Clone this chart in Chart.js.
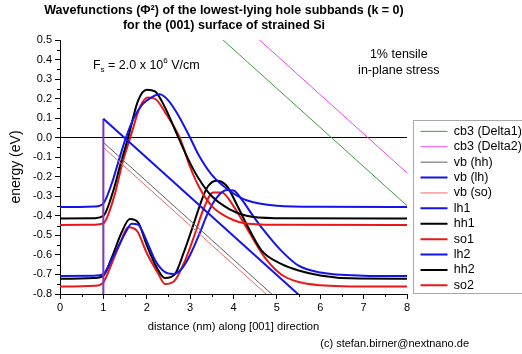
<!DOCTYPE html>
<html lang="en">
<head>
<meta charset="UTF-8">
<title>Wavefunctions of the lowest-lying hole subbands</title>
<script src="https://cdn.jsdelivr.net/npm/chart.js"></script>
<style>
  body { margin: 0; background: #fff; }
  #wrap { width: 522px; height: 354px; }
</style>
</head>
<body>
<div id="wrap"><canvas id="wfChart" width="522" height="354"></canvas></div>
<script>
// distance in nm along [001], energies in eV
const cbX = [1, 8];
const cbDelta1 = [1.052, -0.348];
const cbDelta2 = [1.22, -0.18];

// valence band edges (vertical step at the interface, then the field slope)
const vbX = [1, 1, 8];
const vbHH = [-2, -0.024, -1.424];
const vbLH = [-2, 0.097, -1.303];
const vbSO = [-2, -0.05, -1.45];

// wavefunctions, drawn at their eigenenergies
const lh1X = [0, 0.8, 1.0, 1.2, 1.35, 1.52, 1.7, 1.9, 2.1, 2.3, 2.5, 2.7, 3.0, 3.2, 3.5, 3.9, 4.3, 5.0, 6.0, 8.0];
const lh1Y = [-0.355, -0.352, -0.336, -0.23, -0.12, 0, 0.1, 0.17, 0.205, 0.222, 0.19, 0.125, 0, -0.09, -0.19, -0.27, -0.32, -0.348, -0.354, -0.355];

const hh1X = [0, 0.8, 1.0, 1.23, 1.4, 1.57, 1.8, 2.0, 2.19, 2.42, 2.73, 3.0, 3.2, 3.5, 3.9, 4.3, 5.0, 8.0];
const hh1Y = [-0.414, -0.412, -0.40, -0.27, -0.13, 0, 0.19, 0.246, 0.237, 0.155, 0, -0.13, -0.21, -0.30, -0.365, -0.40, -0.412, -0.414];

const so1X = [0, 0.8, 1.0, 1.25, 1.45, 1.62, 1.85, 2.03, 2.2, 2.45, 2.76, 3.0, 3.2, 3.5, 3.8, 4.2, 5.0, 8.0];
const so1Y = [-0.447, -0.445, -0.438, -0.30, -0.12, 0, 0.16, 0.206, 0.198, 0.12, 0, -0.15, -0.25, -0.35, -0.40, -0.435, -0.446, -0.447];

const lh2X = [0, 0.8, 1.0, 1.2, 1.5, 1.65, 1.8, 2.0, 2.2, 2.4, 2.61, 2.8, 3.0, 3.2, 3.4, 3.6, 3.85, 4.0, 4.2, 4.45, 4.65, 5.1, 5.5, 6.0, 7.0, 8.0];
const lh2Y = [-0.708, -0.706, -0.698, -0.62, -0.49, -0.44, -0.445, -0.53, -0.63, -0.685, -0.698, -0.672, -0.60, -0.50, -0.39, -0.31, -0.268, -0.27, -0.32, -0.40, -0.46, -0.578, -0.655, -0.69, -0.706, -0.708];

const hh2X = [0, 0.8, 1.0, 1.2, 1.42, 1.61, 1.8, 2.0, 2.23, 2.42, 2.65, 2.85, 3.03, 3.3, 3.42, 3.61, 3.84, 4.05, 4.26, 4.65, 5.1, 5.5, 6.0, 6.7, 8.0];
const hh2Y = [-0.722, -0.718, -0.706, -0.61, -0.485, -0.416, -0.433, -0.55, -0.664, -0.718, -0.698, -0.59, -0.476, -0.30, -0.246, -0.22, -0.246, -0.33, -0.425, -0.578, -0.646, -0.68, -0.705, -0.72, -0.722];

const so2X = [0, 0.8, 1.0, 1.2, 1.38, 1.57, 1.77, 2.0, 2.27, 2.42, 2.65, 2.9, 3.11, 3.3, 3.53, 3.73, 4.0, 4.34, 4.72, 5.1, 5.53, 6.0, 6.5, 8.0];
const so2Y = [-0.762, -0.758, -0.74, -0.64, -0.544, -0.459, -0.476, -0.59, -0.698, -0.749, -0.73, -0.62, -0.493, -0.37, -0.28, -0.28, -0.35, -0.476, -0.613, -0.70, -0.74, -0.755, -0.76, -0.762];

const xTicks = { min: 0, max: 8, step: 1 };
const yTicks = { min: -0.8, max: 0.5, step: 0.1 };

const FONT = '"Liberation Sans", Arial, sans-serif';

function pts(xs, ys) {
    return xs.map((x, i) => ({ x: x, y: ys[i] }));
}

function band(label, xs, ys, color, width) {
    return { label, data: pts(xs, ys), borderColor: color, backgroundColor: color,
             borderWidth: width, pointRadius: 0, tension: 0 };
}

function wave(label, xs, ys, color) {
    const d = band(label, xs, ys, color, 2);
    d.cubicInterpolationMode = 'monotone';
    return d;
}

const BLUE = '#1414e8', BLACK = '#000000', RED = '#e81818';

// the band edges overlap at the interface step, which shows up purple
const vbLHSet = band('vb (lh)', vbX, vbLH, BLUE, 2);
vbLHSet.segment = { borderColor: (c) => (c.p0DataIndex === 0 ? '#7a30c0' : undefined) };

// legend width fix, legend box shift and title centring
const placement = {
    id: 'placement',
    beforeLayout(chart) {
        const lg = chart.legend;
        if (lg && !lg._fixed) {
            const fit = lg.fit;
            lg.fit = function () { fit.call(this); this.width = 115; };
            lg._fixed = true;
        }
    },
    afterLayout(chart) {
        const ca = chart.chartArea;
        const lg = chart.legend;
        const w = lg.right - lg.left;
        lg.left = ca.right + 10.6;
        lg.right = lg.left + w;
        lg.bottom += 0.5;
        const t = chart.titleBlock;
        const c = (ca.left + ca.right) / 2 - 9.5;
        t.left = c - 220;
        t.right = c + 220;
    }
};

// minor ticks, legend frame and annotations
const extras = {
    id: 'extras',
    afterDraw(chart) {
        const { ctx, chartArea: ca, scales: { x, y } } = chart;
        ctx.save();
        ctx.strokeStyle = '#000';
        ctx.lineWidth = 1;
        ctx.beginPath();
        for (let v = xTicks.min + xTicks.step / 2; v < xTicks.max; v += xTicks.step) {
            const px = Math.round(x.getPixelForValue(v)) + 0.5;
            ctx.moveTo(px, ca.bottom);
            ctx.lineTo(px, ca.bottom + 3);
        }
        for (let v = yTicks.min + yTicks.step / 2; v < yTicks.max; v += yTicks.step) {
            const py = Math.round(y.getPixelForValue(v)) + 0.5;
            ctx.moveTo(ca.left - 3, py);
            ctx.lineTo(ca.left, py);
        }
        ctx.stroke();

        // legend frame
        const lg = chart.legend;
        const n = chart.data.datasets.length;
        const rowH = 15.4;
        const top = Math.round(lg.bottom - n * rowH - 5) + 0.5;
        const bot = Math.round(lg.bottom - 2) + 0.5;
        ctx.strokeStyle = '#a8a8a8';
        ctx.strokeRect(Math.round(lg.left - 4.6) + 0.5, top, 200, bot - top);

        // field annotation
        ctx.fillStyle = '#000';
        ctx.textBaseline = 'alphabetic';
        ctx.textAlign = 'left';
        let fx = x.getPixelForValue(0.76);
        const fy = y.getPixelForValue(0.353);
        ctx.font = '12.5px ' + FONT;
        ctx.fillText('F', fx, fy);
        fx += ctx.measureText('F').width;
        ctx.font = '8px ' + FONT;
        ctx.fillText('s', fx, fy + 3);
        fx += ctx.measureText('s').width;
        ctx.font = '12.5px ' + FONT;
        ctx.fillText(' = 2.0 x 10', fx, fy);
        fx += ctx.measureText(' = 2.0 x 10').width;
        ctx.font = '8px ' + FONT;
        ctx.fillText('6', fx, fy - 6);
        fx += ctx.measureText('6').width;
        ctx.font = '12.5px ' + FONT;
        ctx.fillText(' V/cm', fx, fy);

        // strain note
        ctx.textAlign = 'center';
        ctx.font = '12.5px ' + FONT;
        const sx = x.getPixelForValue(7.81);
        ctx.fillText('1% tensile', sx, y.getPixelForValue(0.409));
        ctx.fillText('in-plane stress', sx, y.getPixelForValue(0.328));

        // credit line
        ctx.textAlign = 'right';
        ctx.font = '11px ' + FONT;
        ctx.fillText('(c) stefan.birner@nextnano.de', chart.width - 53, chart.height - 7);
        ctx.restore();
    }
};

new Chart(document.getElementById('wfChart'), {
    type: 'line',
    data: {
        datasets: [
            band('cb3 (Delta1)', cbX, cbDelta1, '#3c9e3c', 1),
            band('cb3 (Delta2)', cbX, cbDelta2, '#ee44ee', 1),
            band('vb (hh)', vbX, vbHH, '#606060', 1),
            vbLHSet,
            band('vb (so)', vbX, vbSO, '#f06a6a', 1),
            wave('lh1', lh1X, lh1Y, BLUE),
            wave('hh1', hh1X, hh1Y, BLACK),
            wave('so1', so1X, so1Y, RED),
            wave('lh2', lh2X, lh2Y, BLUE),
            wave('hh2', hh2X, hh2Y, BLACK),
            wave('so2', so2X, so2Y, RED)
        ]
    },
    options: {
        responsive: false,
        animation: false,
        layout: { padding: 0 },
        plugins: {
            tooltip: { enabled: false },
            title: {
                display: true,
                text: ['Wavefunctions (\u03A6\u00B2) of the lowest-lying hole subbands (k = 0)',
                       'for the (001) surface of strained Si'],
                color: '#000',
                font: { family: FONT, size: 12.5, weight: 'bold', lineHeight: 1.18 },
                padding: { top: 3, bottom: 7.5 }
            },
            legend: {
                position: 'right',
                align: 'end',
                fullSize: false,
                labels: {
                    usePointStyle: true,
                    pointStyle: 'line',
                    pointStyleWidth: 27,
                    boxWidth: 27,
                    padding: 2.9,
                    color: '#000',
                    font: { family: FONT, size: 12.5 }
                }
            }
        },
        scales: {
            x: {
                type: 'linear',
                min: xTicks.min,
                max: xTicks.max,
                afterFit(scale) { scale.height = 60; },
                border: { display: true, color: '#000', width: 1 },
                grid: { drawOnChartArea: false, tickLength: 5, tickColor: '#000' },
                ticks: { stepSize: xTicks.step, padding: 2, color: '#000',
                         font: { family: FONT, size: 11 } },
                title: {
                    display: true,
                    text: 'distance (nm) along [001] direction',
                    color: '#000',
                    font: { family: FONT, size: 11.2 },
                    padding: { top: 0, bottom: 20 }
                }
            },
            y: {
                min: yTicks.min,
                max: yTicks.max,
                afterFit(scale) { scale.width = 60; },
                border: { display: true, color: '#000', width: 1 },
                grid: {
                    tickLength: 5,
                    tickColor: '#000',
                    color: (c) => (c.tick && Math.abs(c.tick.value) < 1e-9 ? '#000' : 'rgba(0,0,0,0)')
                },
                ticks: {
                    stepSize: yTicks.step,
                    padding: 3,
                    color: '#000',
                    font: { family: FONT, size: 11 },
                    callback: (v) => (Math.abs(v) < 1e-9 ? '0.0' : Number(v).toFixed(1))
                },
                title: {
                    display: true,
                    text: 'energy (eV)',
                    color: '#000',
                    font: { family: FONT, size: 14 },
                    padding: { top: 8, bottom: 0 }
                }
            }
        }
    },
    plugins: [placement, extras]
});
</script>
</body>
</html>
